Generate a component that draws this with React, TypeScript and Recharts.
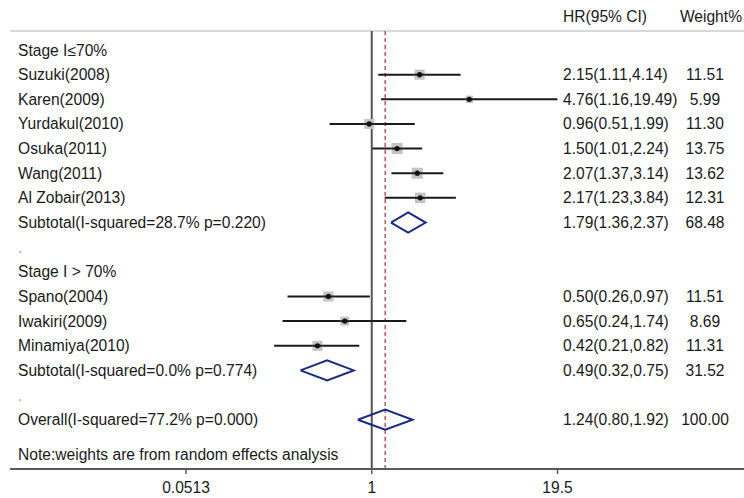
import React from 'react';
import { ComposedChart, Scatter, XAxis, YAxis, ReferenceLine, ErrorBar } from 'recharts';

const groupHeaders = ['Stage I≤70%', 'Stage I > 70%'];

const studyNames = [
  'Suzuki(2008)',
  'Karen(2009)',
  'Yurdakul(2010)',
  'Osuka(2011)',
  'Wang(2011)',
  'Al Zobair(2013)',
  'Spano(2004)',
  'Iwakiri(2009)',
  'Minamiya(2010)',
];
const studyGroup = [0, 0, 0, 0, 0, 0, 1, 1, 1];
const studyHR = [2.15, 4.76, 0.96, 1.5, 2.07, 2.17, 0.5, 0.65, 0.42];
const studyLow = [1.11, 1.16, 0.51, 1.01, 1.37, 1.23, 0.26, 0.24, 0.21];
const studyHigh = [4.14, 19.49, 1.99, 2.24, 3.14, 3.84, 0.97, 1.74, 0.82];
const studyWeight = [11.51, 5.99, 11.3, 13.75, 13.62, 12.31, 11.51, 8.69, 11.31];

const pooledNames = [
  'Subtotal(I-squared=28.7% p=0.220)',
  'Subtotal(I-squared=0.0% p=0.774)',
  'Overall(I-squared=77.2% p=0.000)',
];
const pooledHR = [1.79, 0.49, 1.24];
const pooledLow = [1.36, 0.32, 0.8];
const pooledHigh = [2.37, 0.75, 1.92];
const pooledWeight = [68.48, 31.52, 100.0];

const noteText = 'Note:weights are from random effects analysis';
const xTicks = [0.0513, 1, 19.5];

const FONT = '"Liberation Sans", Arial, sans-serif';
const FS = 15.6;
const TEXT = '#1a1a1a';
const NAVY = '#1b2a84';
const lg = Math.log10;

const X_DOMAIN: [number, number] = [-2.512, 2.585];
const Y_DOMAIN: [number, number] = [-0.77, 17.0];
const DIAMOND_HALF = 0.41;

type Row = { pos: number; label: string; hr?: string; weight?: string; kind: string };

const fmtCI = (h: number, l: number, u: number) =>
  `${h.toFixed(2)}(${l.toFixed(2)},${u.toFixed(2)})`;

const rows: Row[] = [];
const studyPoints: any[] = [];
const diamonds: any[][] = [];

const addPooled = (k: number, pos: number) => {
  rows.push({
    pos,
    label: pooledNames[k],
    hr: fmtCI(pooledHR[k], pooledLow[k], pooledHigh[k]),
    weight: pooledWeight[k].toFixed(2),
    kind: 'pooled',
  });
  diamonds.push([
    { x: lg(pooledLow[k]), y: pos },
    { x: lg(pooledHR[k]), y: pos - DIAMOND_HALF },
    { x: lg(pooledHigh[k]), y: pos },
    { x: lg(pooledHR[k]), y: pos + DIAMOND_HALF },
    { x: lg(pooledLow[k]), y: pos },
  ]);
};

let p = 0;
groupHeaders.forEach((h, g) => {
  rows.push({ pos: p++, label: h, kind: 'header' });
  studyNames.forEach((name, i) => {
    if (studyGroup[i] !== g) return;
    rows.push({
      pos: p,
      label: name,
      hr: fmtCI(studyHR[i], studyLow[i], studyHigh[i]),
      weight: studyWeight[i].toFixed(2),
      kind: 'study',
    });
    studyPoints.push({
      x: lg(studyHR[i]),
      y: p,
      err: [lg(studyHR[i]) - lg(studyLow[i]), lg(studyHigh[i]) - lg(studyHR[i])],
      weight: studyWeight[i],
    });
    p++;
  });
  addPooled(g, p++);
  rows.push({ pos: p++, label: '.', kind: 'blank' });
});
addPooled(2, p);
rows.push({ pos: p + 1.43, label: noteText, kind: 'note' });

const RowTick = (props: any) => {
  const { y, payload } = props;
  const row = rows.find((r) => Math.abs(r.pos - payload.value) < 1e-6);
  if (!row) return <g />;
  const common = { y, dy: '0.355em', fontSize: FS, fontFamily: FONT, fill: TEXT };
  return (
    <g>
      <text {...common} x={18} textAnchor="start" fill={row.kind === 'blank' ? '#9aa6bd' : TEXT}>
        {row.label}
      </text>
      {row.hr && (
        <text {...common} x={563} textAnchor="start">
          {row.hr}
        </text>
      )}
      {row.weight && (
        <text {...common} x={705} textAnchor="middle">
          {row.weight}
        </text>
      )}
    </g>
  );
};

const StudyMark = (props: any) => {
  const { cx, cy, payload } = props;
  const s = 3 * Math.sqrt(payload.weight);
  return (
    <g>
      <rect x={cx - s / 2} y={cy - s / 2} width={s} height={s} fill="#c4c4c4" />
      <line x1={cx - s / 2} x2={cx + s / 2} y1={cy} y2={cy} stroke={TEXT} strokeWidth={2} />
      <circle cx={cx} cy={cy} r={2.6} fill="#111" />
    </g>
  );
};

const tickLabel = (v: number) => {
  const t = xTicks.find((t) => Math.abs(lg(t) - v) < 1e-9);
  return t === undefined ? '' : String(t);
};

export default function App() {
  return (
    <div style={{ position: 'fixed', left: 0, top: 0, width: 744, height: 498, background: '#fff' }}>
      <ComposedChart width={744} height={498} margin={{ top: 31, right: 0, left: 10, bottom: 0 }}>
        <XAxis
          type="number"
          dataKey="x"
          domain={X_DOMAIN}
          allowDataOverflow
          ticks={xTicks.map(lg)}
          tickFormatter={tickLabel}
          interval={0}
          height={29}
          axisLine={{ stroke: '#5a5a5a', strokeWidth: 2 }}
          tickLine={{ stroke: '#5a5a5a', strokeWidth: 1.5 }}
          tickSize={5}
          tickMargin={8}
          tick={{ fill: TEXT, fontSize: FS, fontFamily: FONT }}
        />
        <YAxis
          type="number"
          dataKey="y"
          domain={Y_DOMAIN}
          reversed
          allowDataOverflow
          ticks={rows.map((r) => r.pos)}
          interval={0}
          mirror
          width={60}
          axisLine={false}
          tickLine={false}
          tick={RowTick}
        />
        <ReferenceLine y={Y_DOMAIN[0]} stroke="#d9d9d9" strokeWidth={2} />
        <ReferenceLine x={0} stroke="#555" strokeWidth={2} />
        <ReferenceLine x={lg(pooledHR[2])} stroke="#c9565a" strokeDasharray="4 3" strokeWidth={1.5} />
        {diamonds.map((d, i) => (
          <Scatter
            key={i}
            data={d}
            fill={NAVY}
            line={{ stroke: NAVY, strokeWidth: 2 }}
            lineType="joint"
            shape={() => <g />}
            isAnimationActive={false}
          />
        ))}
        <Scatter data={studyPoints} shape={StudyMark} isAnimationActive={false}>
          <ErrorBar dataKey="err" direction="x" width={0} stroke={TEXT} strokeWidth={2} />
        </Scatter>
      </ComposedChart>
      <svg
        width={744}
        height={40}
        style={{ position: 'absolute', left: 0, top: 0, pointerEvents: 'none' }}
      >
        <text x={563} y={16} dy="0.355em" fontSize={FS} fontFamily={FONT} fill={TEXT}>
          HR(95% CI)
        </text>
        <text x={742} y={16} dy="0.355em" fontSize={FS} fontFamily={FONT} fill={TEXT} textAnchor="end">
          Weight%
        </text>
      </svg>
    </div>
  );
}
